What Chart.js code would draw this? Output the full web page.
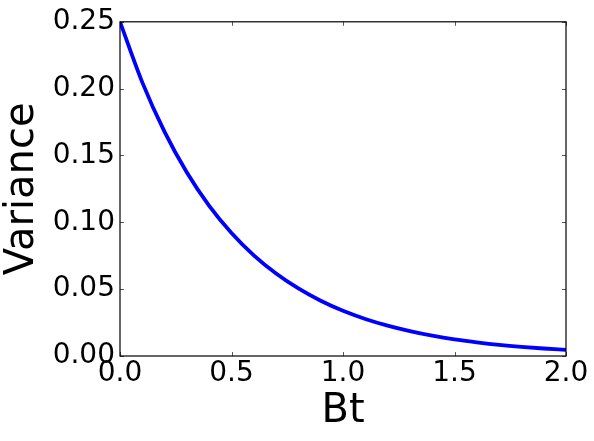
<!DOCTYPE html>
<html>
<head>
<meta charset="utf-8">
<script src="https://cdn.jsdelivr.net/npm/chart.js@4.4.1/dist/chart.umd.min.js"></script>
<style>
  html, body { margin: 0; padding: 0; background: #fff; }
  #wrap { width: 594px; height: 441px; position: relative; }
</style>
</head>
<body>
<div id="wrap"><canvas id="c"></canvas></div>
<script>
// Data
const btValues = [0.0, 0.1, 0.2, 0.3, 0.4, 0.5, 0.6, 0.7, 0.8, 0.9, 1.0,
                  1.1, 1.2, 1.3, 1.4, 1.5, 1.6, 1.7, 1.8, 1.9, 2.0];
const varianceValues = [0.2500, 0.2047, 0.1676, 0.1372, 0.1123, 0.0920, 0.0753,
                        0.0617, 0.0505, 0.0413, 0.0338, 0.0277, 0.0227, 0.0186,
                        0.0152, 0.0124, 0.0102, 0.0083, 0.0068, 0.0056, 0.0046];
const xTickValues = [0.0, 0.5, 1.0, 1.5, 2.0];
const yTickValues = [0.00, 0.05, 0.10, 0.15, 0.20, 0.25];
const xLabel = 'Bt';
const yLabel = 'Variance';

const FONT = 'DejaVu Sans';

const points = btValues.map((x, i) => ({ x: x, y: varianceValues[i] }));

const frameAndTicks = {
  id: 'frameAndTicks',
  afterDraw(chart) {
    const { ctx, chartArea: a, scales } = chart;
    const len = 4;
    ctx.save();
    ctx.strokeStyle = 'rgba(0,0,0,0.65)';
    ctx.lineWidth = 1;
    ctx.beginPath();
    xTickValues.forEach(v => {
      const px = Math.round(scales.x.getPixelForValue(v)) + 0.5;
      ctx.moveTo(px, a.bottom); ctx.lineTo(px, a.bottom - len);
      ctx.moveTo(px, a.top); ctx.lineTo(px, a.top + len);
    });
    yTickValues.forEach(v => {
      const py = Math.round(scales.y.getPixelForValue(v)) + 0.5;
      ctx.moveTo(a.left, py); ctx.lineTo(a.left + len, py);
      ctx.moveTo(a.right, py); ctx.lineTo(a.right - len, py);
    });
    ctx.stroke();
    ctx.strokeStyle = '#000';
    ctx.lineWidth = 1.2;
    ctx.strokeRect(a.left, a.top, a.right - a.left, a.bottom - a.top);
    ctx.restore();
  }
};

new Chart(document.getElementById('c'), {
  type: 'line',
  data: {
    datasets: [{
      data: points,
      borderColor: '#0000ff',
      borderWidth: 3.8,
      pointRadius: 0,
      fill: false,
      cubicInterpolationMode: 'monotone',
      clip: 0
    }]
  },
  options: {
    responsive: true,
    maintainAspectRatio: false,
    animation: false,
    events: [],
    layout: { padding: { top: 21, right: 28, left: 0, bottom: 0 } },
    plugins: { legend: { display: false }, tooltip: { enabled: false } },
    scales: {
      x: {
        type: 'linear',
        min: 0, max: 2,
        afterFit(s) { s.height = 85; },
        afterBuildTicks(s) { s.ticks = xTickValues.map(v => ({ value: v })); },
        grid: { display: false, drawTicks: false },
        border: { display: false },
        ticks: {
          padding: 1,
          color: '#000',
          font: { family: FONT, size: 28 },
          maxRotation: 0,
          callback: v => Number(v).toFixed(1)
        },
        title: {
          display: true, text: xLabel, color: '#000',
          font: { family: FONT, size: 40, lineHeight: 1.15 },
          padding: { top: 0, bottom: 6 }
        }
      },
      y: {
        type: 'linear',
        min: 0, max: 0.25,
        afterFit(s) { s.width = 120; },
        afterBuildTicks(s) { s.ticks = yTickValues.map(v => ({ value: v })); },
        grid: { display: false, drawTicks: false },
        border: { display: false },
        ticks: {
          padding: 5,
          color: '#000',
          font: { family: FONT, size: 28 },
          callback: v => Number(v).toFixed(2)
        },
        title: {
          display: true, text: yLabel, color: '#000',
          font: { family: FONT, size: 40, lineHeight: 1.15 },
          padding: { top: 0, bottom: 0 }
        }
      }
    }
  },
  plugins: [frameAndTicks]
});
</script>
</body>
</html>
